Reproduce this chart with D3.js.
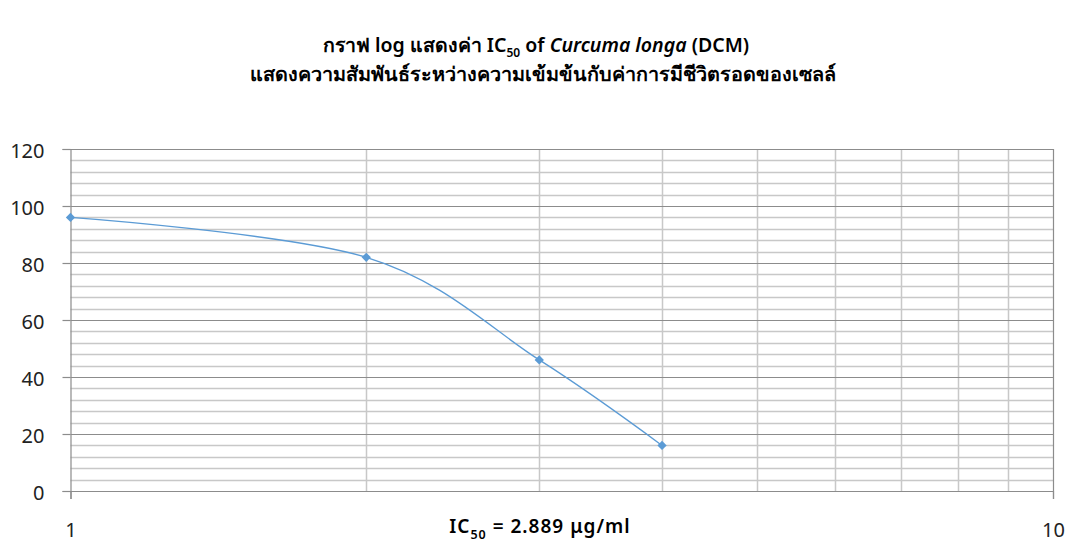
<!DOCTYPE html>
<html>
<head>
<meta charset="utf-8">
<script src="https://cdn.jsdelivr.net/npm/d3@7"></script>
<style>
  html, body { margin: 0; padding: 0; background: #fff; }
  svg { display: block; font-family: "Noto Sans", "Open Sans", sans-serif; }
</style>
</head>
<body>
<svg id="chart" width="1070" height="543"></svg>
<script>
// Concentration (µg/ml) and cell survival (%)
const concentrations = [1, 2, 3, 4];
const survival = [96, 82, 46, 16];
const xTickLabels = [1, 10];
const yTicks = [0, 20, 40, 60, 80, 100, 120];
const yMinorTicks = d3.range(0, 121, 4);
const xMinorTicks = [2, 3, 4, 5, 6, 7, 8, 9];

const svg = d3.select("#chart");
const margin = { left: 70.5, right: 1053, top: 149, bottom: 491 };

const x = d3.scaleLog().domain([1, 10]).range([margin.left, margin.right]);
const y = d3.scaleLinear().domain([0, 120]).range([margin.bottom, margin.top]);

// Title
const title = svg.append("text")
  .attr("x", 536).attr("y", 52)
  .attr("text-anchor", "middle")
  .attr("font-size", 19.5).attr("font-weight", 600).attr("fill", "#000");
title.append("tspan").text("กราฟ log แสดงค่า IC");
title.append("tspan").attr("font-size", 12).attr("dy", 5).text("50");
title.append("tspan").attr("dy", -5).text(" of ");
title.append("tspan").attr("font-style", "italic").text("Curcuma longa");
title.append("tspan").text(" (DCM)");
svg.append("text")
  .attr("x", 543).attr("y", 81)
  .attr("text-anchor", "middle")
  .attr("font-size", 19.8).attr("font-weight", 600).attr("fill", "#000")
  .text("แสดงความสัมพันธ์ระหว่างความเข้มข้นกับค่าการมีชีวิตรอดของเซลล์");

// Minor horizontal gridlines
svg.append("g").selectAll("line")
  .data(yMinorTicks.filter(v => v % 20 !== 0))
  .join("line")
  .attr("x1", margin.left).attr("x2", margin.right)
  .attr("y1", d => Math.round(y(d)) + 0.5).attr("y2", d => Math.round(y(d)) + 0.5)
  .attr("stroke", "#c8c8c8").attr("stroke-width", 1.5);

// Minor vertical gridlines
svg.append("g").selectAll("line")
  .data(xMinorTicks)
  .join("line")
  .attr("x1", d => Math.round(x(d)) + 0.5).attr("x2", d => Math.round(x(d)) + 0.5)
  .attr("y1", margin.top).attr("y2", margin.bottom)
  .attr("stroke", "#c8c8c8").attr("stroke-width", 1.5);

// Major horizontal gridlines
svg.append("g").selectAll("line")
  .data(yTicks.filter(v => v > 0))
  .join("line")
  .attr("x1", margin.left).attr("x2", margin.right)
  .attr("y1", d => Math.round(y(d)) + 0.5).attr("y2", d => Math.round(y(d)) + 0.5)
  .attr("stroke", "#8c8c8c").attr("stroke-width", 1.2);

// Right border
svg.append("line")
  .attr("x1", margin.right + 0.5).attr("x2", margin.right + 0.5)
  .attr("y1", margin.top).attr("y2", margin.bottom)
  .attr("stroke", "#8c8c8c").attr("stroke-width", 1.2);

// Y axis
const yAxis = d3.axisLeft(y).tickValues(yTicks).tickSize(8).tickPadding(18)
  .tickFormat(d3.format("d"));
const gy = svg.append("g").attr("transform", `translate(${margin.left},0)`).call(yAxis);
gy.select(".domain").attr("stroke", "#8c8c8c").attr("stroke-width", 1.2);
gy.selectAll(".tick line").attr("stroke", "#8c8c8c").attr("stroke-width", 1.2);
gy.selectAll(".tick text").attr("font-size", 20).attr("fill", "#222")
  .attr("font-family", "Noto Sans, sans-serif").attr("dy", "0.42em");

// X axis
const xAxis = d3.axisBottom(x).tickValues(xTickLabels).tickSize(8).tickPadding(24)
  .tickFormat(d3.format("d"));
const gx = svg.append("g").attr("transform", `translate(0,${margin.bottom})`).call(xAxis);
gx.select(".domain").attr("stroke", "#8c8c8c").attr("stroke-width", 1.2);
gx.selectAll(".tick line").attr("stroke", "#8c8c8c").attr("stroke-width", 1.2);
gx.selectAll(".tick text").attr("font-size", 20).attr("fill", "#222")
  .attr("font-family", "Noto Sans, sans-serif");

// Smoothed survival curve
const pts = concentrations.map((c, i) => [x(c), y(survival[i])]);
svg.append("path")
  .attr("d", d3.line().curve(d3.curveCatmullRom.alpha(0))(pts))
  .attr("fill", "none").attr("stroke", "#5b9bd5").attr("stroke-width", 1.3);

// Diamond markers
svg.append("g").selectAll("path")
  .data(pts)
  .join("path")
  .attr("transform", d => `translate(${d[0]},${d[1]})`)
  .attr("d", d3.symbol(d3.symbolDiamond2, 55)())
  .attr("fill", "#5b9bd5");

// IC50 annotation
const ann = svg.append("text")
  .attr("x", 540).attr("y", 533)
  .attr("text-anchor", "middle")
  .attr("font-size", 19).attr("font-weight", 600).attr("fill", "#000")
  .attr("letter-spacing", 1);
ann.append("tspan").text("IC");
ann.append("tspan").attr("font-size", 12.5).attr("dy", 6).text("50");
ann.append("tspan").attr("dy", -6).text(" = 2.889 μg/ml");
</script>
</body>
</html>
